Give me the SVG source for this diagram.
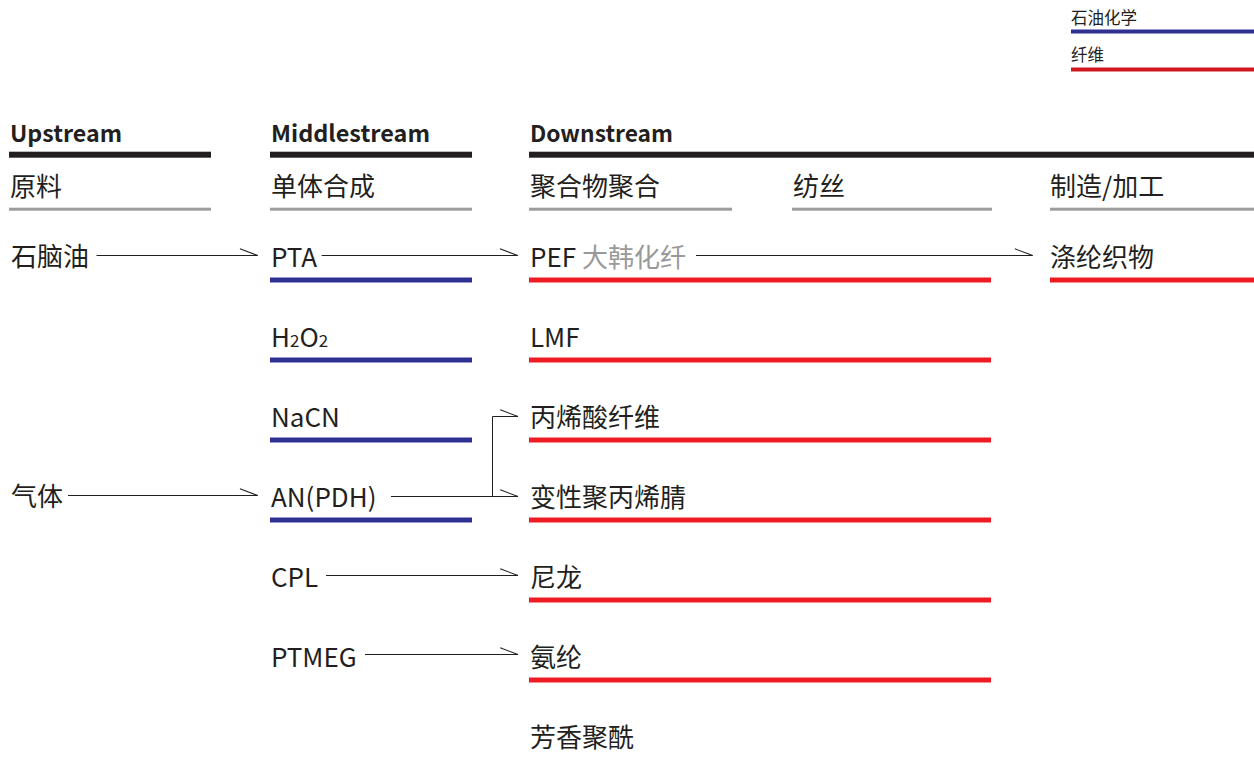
<svg xmlns="http://www.w3.org/2000/svg" width="1254" height="757" viewBox="0 0 1254 757">
<defs>
<style>
text{font-family:"Noto Sans CJK SC","Noto Sans",sans-serif;fill:#231f20;}
.h{font-size:23px;font-weight:bold;}
.s{font-size:26px;}
.t{font-size:26px;}
.lg{font-size:16.5px;}
.gray{fill:#999999;}
.bk{fill:#231f20;}
.gr{fill:#9d9d9d;}
.bl{fill:#2e3192;}
.rd{fill:#ed1c24;}
.conn{stroke:#231f20;stroke-width:1;fill:none;}
</style>
<marker id="barb" markerUnits="userSpaceOnUse" markerWidth="20" markerHeight="10" viewBox="-17 -7 18 8" refX="0" refY="0" orient="auto" overflow="visible">
<path d="M-16,-6 L0,0" stroke="#231f20" stroke-width="1" fill="none"/>
</marker>
</defs>
<rect width="1254" height="757" fill="#ffffff"/>

<g id="legend">
<text class="lg" x="1071" y="23.5">石油化学</text>
<rect x="1071" y="29.5" width="183" height="4" class="bl"/>
<text class="lg" x="1071" y="61">纤维</text>
<rect x="1071" y="67.5" width="183" height="4" fill="#d0181f"/>
</g>

<g id="header-upstream">
<text class="h" x="10" y="141.7" textLength="112" lengthAdjust="spacingAndGlyphs">Upstream</text>
<rect x="9" y="151.7" width="202" height="6" class="bk"/>
<text class="s" x="10" y="195.5">原料</text>
<rect x="9" y="207.7" width="202" height="3" class="gr"/>
</g>
<g id="header-middlestream">
<text class="h" x="271" y="141.7" textLength="159" lengthAdjust="spacingAndGlyphs">Middlestream</text>
<rect x="270" y="151.7" width="202" height="6" class="bk"/>
<text class="s" x="271" y="195.5">单体合成</text>
<rect x="270" y="207.7" width="202" height="3" class="gr"/>
</g>
<g id="header-downstream">
<text class="h" x="530" y="141.7" textLength="143" lengthAdjust="spacingAndGlyphs">Downstream</text>
<rect x="529" y="151.7" width="725" height="6" class="bk"/>
<text class="s" x="530" y="195.5">聚合物聚合</text>
<rect x="529" y="207.7" width="203" height="3" class="gr"/>
<text class="s" x="793" y="195.5">纺丝</text>
<rect x="792" y="207.7" width="200" height="3" class="gr"/>
<text class="s" x="1050" y="195.5">制造/加工</text>
<rect x="1050" y="207.7" width="204" height="3" class="gr"/>
</g>

<g id="node-naphtha"><text class="t" x="11" y="265.5">石脑油</text></g>
<g id="node-gas"><text class="t" x="11" y="505.5">气体</text></g>

<g id="node-pta"><text class="t" x="271" y="266.5">PTA</text><rect x="270" y="277.5" width="202" height="5" class="bl"/></g>
<g id="node-h2o2"><text class="t" x="271" y="346.5">H<tspan font-size="17">2</tspan>O<tspan font-size="17">2</tspan></text><rect x="270" y="357.5" width="202" height="5" class="bl"/></g>
<g id="node-nacn"><text class="t" x="271" y="426.5">NaCN</text><rect x="270" y="437.5" width="202" height="5" class="bl"/></g>
<g id="node-an"><text class="t" x="271" y="506.5">AN(PDH)</text><rect x="270" y="517.5" width="202" height="5" class="bl"/></g>
<g id="node-cpl"><text class="t" x="271" y="586.5">CPL</text></g>
<g id="node-ptmeg"><text class="t" x="271" y="666.5">PTMEG</text></g>

<g id="node-pef"><text class="t" x="530" y="266.5">PEF <tspan class="gray">大韩化纤</tspan></text><rect x="529" y="277.5" width="462" height="5" class="rd"/></g>
<g id="node-lmf"><text class="t" x="530" y="346.5">LMF</text><rect x="529" y="357.5" width="462" height="5" class="rd"/></g>
<g id="node-acrylic"><text class="t" x="530" y="426.5">丙烯酸纤维</text><rect x="529" y="437.5" width="462" height="5" class="rd"/></g>
<g id="node-modacrylic"><text class="t" x="530" y="506.5">变性聚丙烯腈</text><rect x="529" y="517.5" width="462" height="5" class="rd"/></g>
<g id="node-nylon"><text class="t" x="530" y="586.5">尼龙</text><rect x="529" y="597.5" width="462" height="5" class="rd"/></g>
<g id="node-spandex"><text class="t" x="530" y="666.5">氨纶</text><rect x="529" y="677.5" width="462" height="5" class="rd"/></g>
<g id="node-aramid"><text class="t" x="530" y="746.5">芳香聚酰</text></g>

<g id="node-polyester-fabric"><text class="t" x="1050" y="266.5">涤纶织物</text><rect x="1050" y="277.5" width="204" height="5" class="rd"/></g>

<g id="connectors">
<path class="conn" d="M96.5,255.5 H257.7" marker-end="url(#barb)"/>
<path class="conn" d="M68,495.5 H257.7" marker-end="url(#barb)"/>
<path class="conn" d="M321.7,255.5 H517.7" marker-end="url(#barb)"/>
<path class="conn" d="M696,255.5 H1032.7" marker-end="url(#barb)"/>
<path class="conn" d="M391,496.5 H518" marker-end="url(#barb)"/>
<path class="conn" d="M492.5,496.5 V416.5 H518" marker-end="url(#barb)"/>
<path class="conn" d="M326,575.5 H518" marker-end="url(#barb)"/>
<path class="conn" d="M365,654.5 H518" marker-end="url(#barb)"/>
</g>
</svg>
